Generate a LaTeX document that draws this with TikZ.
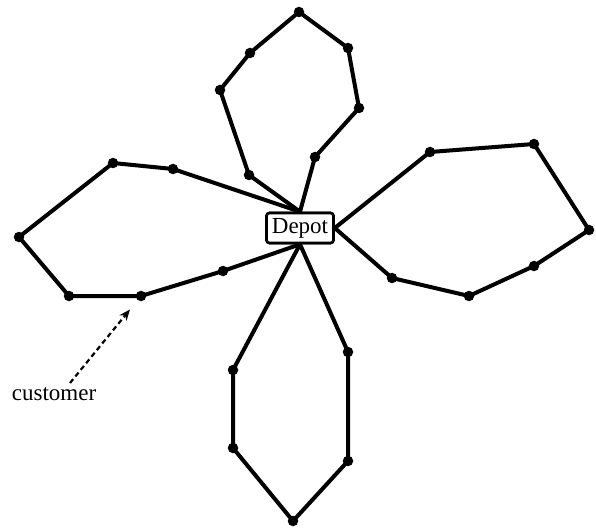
\documentclass[tikz,border=0pt]{standalone}
\usepackage{fontspec}
\setmainfont{Liberation Serif}
\usetikzlibrary{arrows.meta}
\begin{document}
\begin{tikzpicture}[x=1pt,y=-1pt,
  cust/.style={circle,fill=black,inner sep=0pt,minimum size=10.5pt},
  route/.style={line width=4pt,line join=round},
  depotbox/.style={draw,line width=2.6pt,rounded corners=3pt,fill=white,
    minimum width=67pt,minimum height=30pt,inner sep=1pt,
    font=\fontsize{23}{27}\selectfont},
  lbl/.style={font=\fontsize{23}{27}\selectfont,inner sep=0pt},
  pointer/.style={line width=2.2pt,dash pattern=on 5pt off 3.5pt,-{Stealth[length=11pt,width=9pt]}}]
\useasboundingbox (0,0) rectangle (596,529);
% customers
\node[cust] (t1) at (249,175) {};
\node[cust] (t2) at (220,90) {};
\node[cust] (t3) at (250,53) {};
\node[cust] (t4) at (299,12) {};
\node[cust] (t5) at (348,48) {};
\node[cust] (t6) at (359,108) {};
\node[cust] (t7) at (315,157) {};
\node[cust] (l1) at (173,169) {};
\node[cust] (l2) at (113,163) {};
\node[cust] (l3) at (19,237) {};
\node[cust] (l4) at (69,296) {};
\node[cust] (l5) at (141,296) {};
\node[cust] (l6) at (223,271) {};
\node[cust] (r1) at (430,152) {};
\node[cust] (r2) at (534,144) {};
\node[cust] (r3) at (589,230) {};
\node[cust] (r4) at (534,266) {};
\node[cust] (r5) at (469,296) {};
\node[cust] (r6) at (392,278) {};
\node[cust] (b1) at (348,352) {};
\node[cust] (b2) at (348,461) {};
\node[cust] (b3) at (293,521) {};
\node[cust] (b4) at (233,448) {};
\node[cust] (b5) at (233,370) {};
% depot
\node[depotbox] (depot) at (300,228) {Depot};
% routes
\draw[route] (depot.north) -- (t1.center) -- (t2.center) -- (t3.center) -- (t4.center) -- (t5.center) -- (t6.center) -- (t7.center) -- (depot.north);
\draw[route] (depot.north) -- (l1.center) -- (l2.center) -- (l3.center) -- (l4.center) -- (l5.center) -- (l6.center) -- (depot.south);
\draw[route] (depot.east) -- (r1.center) -- (r2.center) -- (r3.center) -- (r4.center) -- (r5.center) -- (r6.center) -- (depot.east);
\draw[route] (depot.south) -- (b1.center) -- (b2.center) -- (b3.center) -- (b4.center) -- (b5.center) -- (depot.south);
% redraw depot on top
\node[depotbox] at (300,228) {Depot};
% label
\node[lbl] (custlabel) at (54,394) {customer};
\coordinate (ptail) at (70,383);
\draw[pointer,shorten >=12pt] (ptail) -- (l5);
\end{tikzpicture}
\end{document}
